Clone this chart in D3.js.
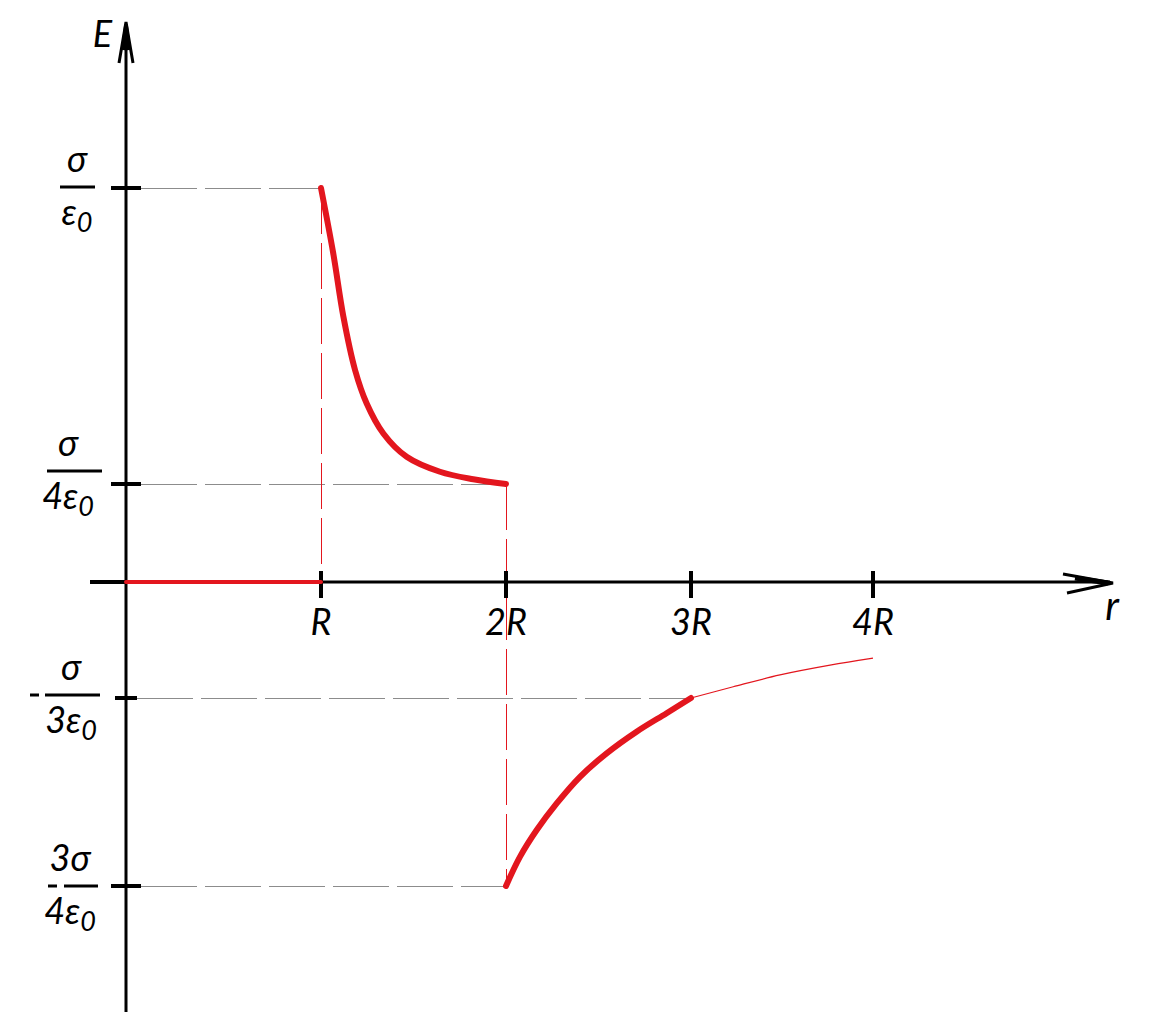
<!DOCTYPE html>
<html>
<head>
<meta charset="utf-8">
<script src="https://cdn.jsdelivr.net/npm/d3@7"></script>
<style>
  body { margin: 0; background: #fff; }
  text { font-family: Lato, "Noto Sans", sans-serif; font-style: italic; fill: #000; }
</style>
</head>
<body>
<div id="chart"></div>
<script>
// --- data (r in units of R, E in units of sigma/eps0) ---
const xTicks = [1, 2, 3, 4];
const xTickLabels = ["R", "2R", "3R", "4R"];

const yTicks = [1, 0.25, -1 / 3, -0.75];
const yNumer = ["σ", "σ", "σ", "3σ"];
const yDenom = ["ε", "4ε", "3ε", "4ε"];
const yNegative = [false, false, true, true];
const guideR = [1, 2, 3, 2]; // where each dashed gray guide meets the curve

// inside the inner sphere
const innerR = [0, 1];
const innerE = [0, 0];

// between R and 2R
const midR = [1, 1.066, 1.121, 1.184, 1.247, 1.337, 1.463, 1.643, 1.823, 2];
const midE = [1, 0.835, 0.674, 0.539, 0.454, 0.378, 0.319, 0.281, 0.262, 0.25];

// 2R .. 3R (thick)
const outR = [2, 2.076, 2.166, 2.274, 2.4, 2.544, 2.706, 2.868, 3];
const outE = [-0.75, -0.685, -0.626, -0.567, -0.508, -0.456, -0.408, -0.367, -1 / 3];

// 3R .. 4R (thin continuation)
const tailR = [3, 3.232, 3.489, 3.764, 4];
const tailE = [-1 / 3, -0.301, -0.267, -0.239, -0.219];

// --- layout ---
const W = 1157, H = 1024;
const red = "#e3161e";

// hand drawn axes, so the scales are piecewise
const x = d3.scaleLinear().domain([0, 1, 2, 3, 4]).range([126, 321, 506, 691, 873]);
const y = d3.scaleLinear().domain([-0.75, -1 / 3, 0, 0.25, 1]).range([886, 698, 582, 484, 188]);

// label layout for the fractions on the E axis
const fracCx = [77, 68, 71, 70];
const barX0 = [60, 47, 45, 64];
const barX1 = [95, 102, 100, 98];
const barDy = [-1, -13, -3, 0];
const minusX = [0, 0, 34, 52];
const yTickHalf = [15, 15, 11, 15];

const svg = d3.select("#chart").append("svg")
  .attr("width", W).attr("height", H)
  .attr("viewBox", `0 0 ${W} ${H}`);

const x0 = x(0), y0 = y(0);

// gray dashed guides
svg.append("g").selectAll("line")
  .data(yTicks)
  .enter().append("line")
  .attr("x1", (d, i) => x0 + yTickHalf[i])
  .attr("x2", (d, i) => x(guideR[i]))
  .attr("y1", d => y(d) + 0.5)
  .attr("y2", d => y(d) + 0.5)
  .attr("stroke", "#8c8c8c")
  .attr("stroke-width", 1)
  .attr("stroke-dasharray", "56,8");

// red dashed verticals at R and 2R
const drops = [[1, 1, 0], [2, 0.25, -0.75]];
svg.append("g").selectAll("line")
  .data(drops)
  .enter().append("line")
  .attr("x1", d => x(d[0]) + 0.5)
  .attr("x2", d => x(d[0]) + 0.5)
  .attr("y1", d => y(d[1]))
  .attr("y2", d => y(d[2]))
  .attr("stroke", red)
  .attr("stroke-width", 1)
  .attr("stroke-dasharray", "46,9");

// axes
const axis = svg.append("g")
  .attr("stroke", "#000")
  .attr("stroke-width", 3)
  .attr("fill", "none")
  .attr("stroke-linecap", "butt");

axis.append("line").attr("x1", x0).attr("x2", x0).attr("y1", 24).attr("y2", 1012);
axis.append("line").attr("x1", 90).attr("x2", 1110).attr("y1", y0).attr("y2", y0);

// arrow heads
axis.append("path").attr("d", `M${x0 - 7},63 L${x0},22 L${x0 + 7},63`);
axis.append("path").attr("d", `M${x0 - 3},50 L${x0},26 L${x0 + 3},50`).attr("stroke-width", 4);
axis.append("path").attr("d", `M1063,574 L1113,${y0 + 1} L1067,593`);
axis.append("path").attr("d", `M1075,578 L1108,${y0 + 1}`).attr("stroke-width", 5);

// x ticks
axis.selectAll(".xt")
  .data(xTicks)
  .enter().append("line")
  .attr("class", "xt")
  .attr("x1", d => x(d)).attr("x2", d => x(d))
  .attr("y1", y0 - 11).attr("y2", y0 + 16)
  .attr("stroke-width", 4);

// y ticks
axis.selectAll(".yt")
  .data(yTicks)
  .enter().append("line")
  .attr("class", "yt")
  .attr("x1", (d, i) => x0 - yTickHalf[i])
  .attr("x2", (d, i) => x0 + yTickHalf[i])
  .attr("y1", d => y(d)).attr("y2", d => y(d))
  .attr("stroke-width", 4);

// little stub left of origin
axis.append("line").attr("x1", 90).attr("x2", x0).attr("y1", y0).attr("y2", y0).attr("stroke-width", 4);

// x tick labels
svg.append("g").selectAll("text")
  .data(xTicks)
  .enter().append("text")
  .attr("x", d => x(d))
  .attr("y", 635)
  .attr("text-anchor", "middle")
  .attr("font-size", 36)
  .text((d, i) => xTickLabels[i]);

// axis titles
svg.append("text").attr("x", 112).attr("y", 47).attr("text-anchor", "end")
  .attr("font-size", 36).text("E");
svg.append("text").attr("x", 1112).attr("y", 620).attr("text-anchor", "middle")
  .attr("font-size", 40).text("r");

// fraction labels on the E axis
const frac = svg.append("g").selectAll("g")
  .data(yTicks)
  .enter().append("g")
  .attr("transform", (d, i) => `translate(0,${y(d) + barDy[i]})`);

frac.append("line")
  .attr("x1", (d, i) => barX0[i]).attr("x2", (d, i) => barX1[i])
  .attr("y1", 0).attr("y2", 0)
  .attr("stroke", "#000").attr("stroke-width", 3);

frac.filter((d, i) => yNegative[i]).append("line")
  .attr("x1", d => minusX[yTicks.indexOf(d)] - 4)
  .attr("x2", d => minusX[yTicks.indexOf(d)] + 5)
  .attr("y1", 0).attr("y2", 0)
  .attr("stroke", "#000").attr("stroke-width", 3);

frac.append("text")
  .attr("x", (d, i) => fracCx[i])
  .attr("y", -15)
  .attr("text-anchor", "middle")
  .attr("font-size", 36)
  .text((d, i) => yNumer[i]);

const den = frac.append("text")
  .attr("x", (d, i) => fracCx[i])
  .attr("y", 38)
  .attr("text-anchor", "middle")
  .attr("font-size", 36);
den.append("tspan").text((d, i) => yDenom[i]);
den.append("tspan").attr("font-size", 27).attr("dy", 7).text("0");

// field curves
const line = d3.line()
  .x(d => x(d[0]))
  .y(d => y(d[1]))
  .curve(d3.curveCatmullRom.alpha(0.5));

const curves = [
  { r: innerR, e: innerE, w: 4 },
  { r: midR, e: midE, w: 6 },
  { r: outR, e: outE, w: 6 },
  { r: tailR, e: tailE, w: 1.2 }
];

svg.append("g").selectAll("path")
  .data(curves)
  .enter().append("path")
  .attr("d", c => line(c.r.map((r, i) => [r, c.e[i]])))
  .attr("fill", "none")
  .attr("stroke", red)
  .attr("stroke-width", c => c.w)
  .attr("stroke-linecap", c => (c.w > 3 ? "round" : "butt"));
</script>
</body>
</html>
